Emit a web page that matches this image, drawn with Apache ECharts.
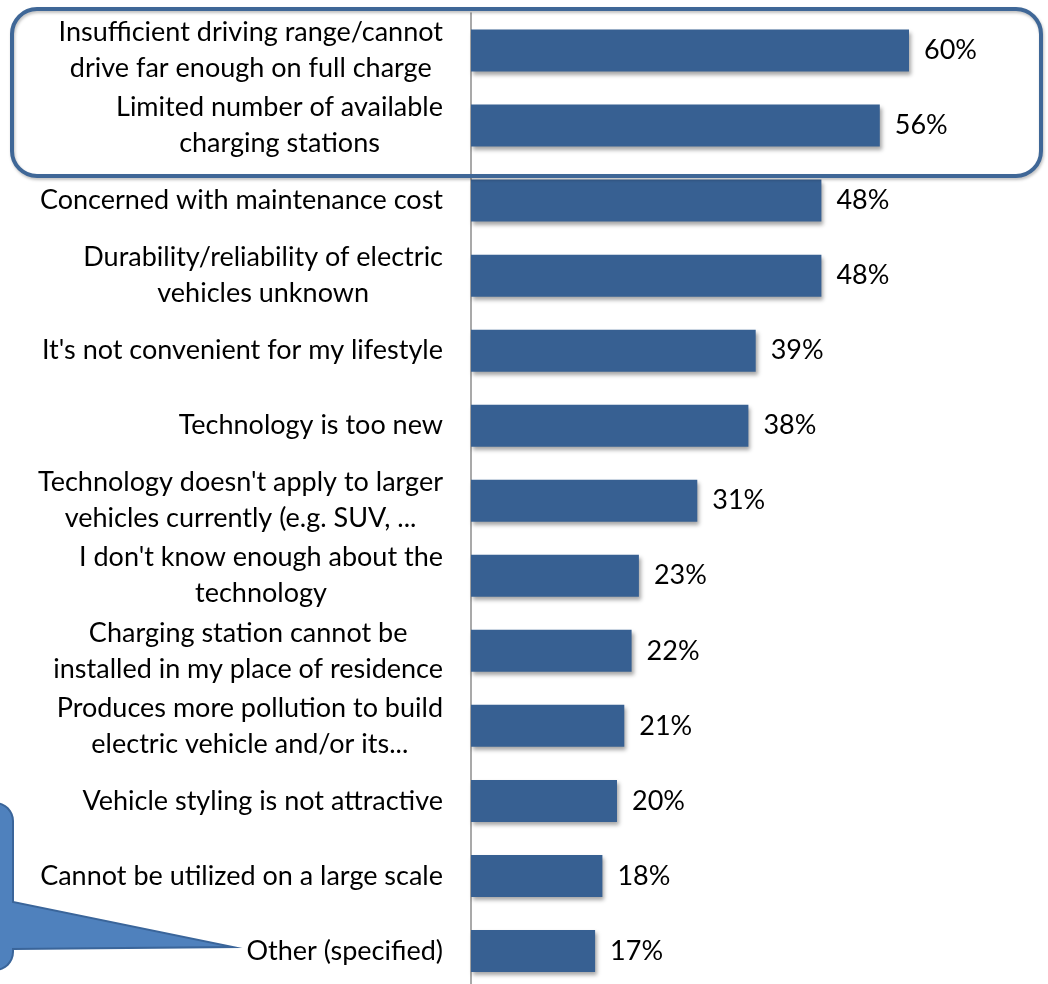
<!DOCTYPE html>
<html><head><meta charset="utf-8">
<script src="https://cdn.jsdelivr.net/npm/echarts@6/dist/echarts.min.js"></script>
<style>html,body{margin:0;padding:0;background:#fff}#c{width:1048px;height:984px}</style>
</head><body><div id="c"></div>
<script>
const categories = [
  "Insufficient driving range/cannot\ndrive far enough on full charge",
  "Limited number of available\ncharging stations",
  "Concerned with maintenance cost",
  "Durability/reliability of electric\nvehicles unknown",
  "It's not convenient for my lifestyle",
  "Technology is too new",
  "Technology doesn't apply to larger\nvehicles currently (e.g. SUV, ...",
  "I don't know enough about the\ntechnology",
  "Charging station cannot be\ninstalled in my place of residence",
  "Produces more pollution to build\nelectric vehicle and/or its...",
  "Vehicle styling is not attractive",
  "Cannot be utilized on a large scale",
  "Other (specified)"
];
const values = [60, 56, 48, 48, 39, 38, 31, 23, 22, 21, 20, 18, 17];

const FONT = 'Lato';
const FS = 27;

// rounded-corner helper for the callout outline (decoration only)
function arcPts(cx, cy, r, a0, a1, n) {
  const p = [];
  for (let i = 0; i <= n; i++) {
    const a = a0 + (a1 - a0) * i / n;
    p.push([cx + r * Math.cos(a), cy + r * Math.sin(a)]);
  }
  return p;
}
const R = 18;
const calloutPts = [[-40, 803]]
  .concat(arcPts(13 - R, 803 + R, R, -Math.PI / 2, 0, 8))
  .concat([[13, 902], [233, 947], [13, 949]])
  .concat(arcPts(13 - R, 970 - R, R, 0, Math.PI / 2, 8))
  .concat([[-40, 970]]);

const chart = echarts.init(document.getElementById('c'));
chart.setOption({
  animation: false,
  grid: { left: 471, top: 13, width: 569.4, height: 975.5, outerBoundsMode: 'none', containLabel: false },
  xAxis: { type: 'value', min: 0, max: 78, show: false, splitLine: { show: false } },
  yAxis: {
    type: 'category', data: categories, inverse: true,
    axisLine: { show: true, lineStyle: { color: '#8c8c8c', width: 1.5 } },
    axisTick: { show: false },
    axisLabel: {
      margin: 28, color: '#000', fontFamily: FONT, fontSize: FS,
      formatter: v => v.split('\n').map(l => '{c|' + l + '}').join('\n'),
      rich: { c: { align: 'center', fontFamily: FONT, fontSize: FS, lineHeight: 36, color: '#000' } }
    }
  },
  series: [{
    type: 'bar', data: values, barWidth: 42,
    itemStyle: { color: '#376092', shadowColor: 'rgba(0,0,0,0.35)', shadowBlur: 4, shadowOffsetX: 2, shadowOffsetY: 3 },
    label: { show: true, position: 'right', distance: 15, formatter: '{c}%', color: '#000', fontFamily: FONT, fontSize: FS }
  }],
  graphic: [
    { type: 'rect', z: 100, silent: true,
      shape: { x: 12, y: 9, width: 1029, height: 167, r: 25 },
      style: { fill: 'none', stroke: '#3f6797', lineWidth: 4, shadowColor: 'rgba(0,0,0,0.25)', shadowBlur: 3, shadowOffsetX: 1, shadowOffsetY: 2 } },
    { type: 'polygon', z: 100, silent: true,
      shape: { points: calloutPts },
      style: { fill: '#4f81bd', stroke: '#3a659a', lineWidth: 2 } }
  ]
});
</script>
</body></html>
